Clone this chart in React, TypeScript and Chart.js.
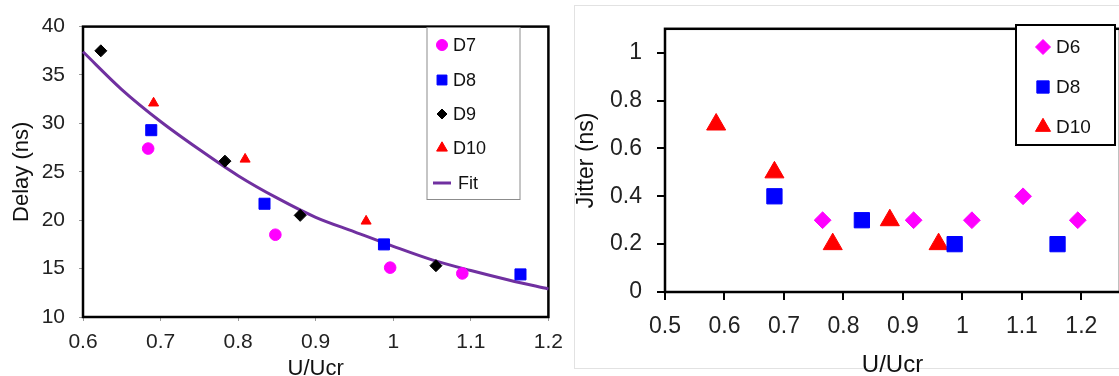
import React, { useEffect, useRef } from 'react';
import { Chart, registerables } from 'chart.js';
import { drawPoint } from 'chart.js/helpers';

Chart.register(...registerables);
Chart.defaults.font.family = "'Liberation Sans', Arial, sans-serif";

// ---------- Left chart: Delay ----------
const d7X = [0.684, 0.848, 0.996, 1.089];
const d7Y = [27.4, 18.5, 15.1, 14.5];
const d8LeftX = [0.688, 0.834, 0.988, 1.164];
const d8LeftY = [29.3, 21.7, 17.5, 14.4];
const d9X = [0.623, 0.783, 0.88, 1.055];
const d9Y = [37.5, 26.1, 20.5, 15.3];
const d10LeftX = [0.691, 0.809, 0.965];
const d10LeftY = [32.1, 26.3, 19.9];
const fitX = [0.6, 0.65, 0.7, 0.75, 0.8, 0.85, 0.9, 0.95, 1.0, 1.05, 1.1, 1.15, 1.2];
const fitY = [37.4, 33.5, 30.2, 27.3, 24.6, 22.3, 20.3, 18.8, 17.3, 15.9, 14.8, 13.8, 12.9];

// ---------- Right chart: Jitter ----------
const d6X = [0.765, 0.918, 1.016, 1.102, 1.194];
const d6Y = [0.3, 0.3, 0.3, 0.4, 0.3];
const d8RightX = [0.684, 0.831, 0.987, 1.16];
const d8RightY = [0.4, 0.3, 0.2, 0.2];
const d10RightX = [0.586, 0.684, 0.782, 0.878, 0.96];
const d10RightY = [0.7, 0.5, 0.2, 0.3, 0.2];

const leftXTitle = 'U/Ucr';
const leftYTitle = 'Delay (ns)';
const rightXTitle = 'U/Ucr';
const rightYTitle = 'Jitter (ns)';

const pts = (xs: number[], ys: number[]) => xs.map((x, i) => ({ x, y: ys[i] }));
const fmt = (v: any) => String(Number(Number(v).toFixed(2)));

const boxPlugin = {
  id: 'plotBox',
  beforeDraw(chart: any, _a: any, opts: any) {
    if (!opts || !opts.frame) return;
    const { ctx } = chart;
    ctx.save();
    ctx.strokeStyle = opts.frame.color;
    ctx.lineWidth = 1;
    ctx.strokeRect(opts.frame.x, opts.frame.y, opts.frame.w, opts.frame.h);
    ctx.restore();
  },
  beforeDatasetsDraw(chart: any, _a: any, opts: any) {
    const { ctx, chartArea } = chart;
    ctx.save();
    ctx.strokeStyle = opts.color || '#000';
    ctx.lineWidth = opts.width || 2;
    ctx.strokeRect(chartArea.left, chartArea.top, chartArea.right - chartArea.left, chartArea.bottom - chartArea.top);
    ctx.restore();
  },
};

const legendPlugin = {
  id: 'boxLegend',
  afterDraw(chart: any, _a: any, o: any) {
    const { ctx } = chart;
    ctx.save();
    ctx.fillStyle = '#fff';
    ctx.fillRect(o.x, o.y, o.w, o.h);
    ctx.strokeStyle = o.borderColor;
    ctx.lineWidth = o.borderWidth;
    ctx.strokeRect(o.x, o.y, o.w, o.h);
    ctx.font = `${o.fontSize}px 'Liberation Sans', Arial, sans-serif`;
    ctx.textBaseline = 'middle';
    ctx.textAlign = 'left';
    chart.data.datasets.forEach((ds: any, i: number) => {
      const cy = o.rowY[i];
      if (ds.showLine) {
        ctx.strokeStyle = ds.borderColor;
        ctx.lineWidth = ds.borderWidth;
        ctx.beginPath();
        ctx.moveTo(o.markerX - 9, cy);
        ctx.lineTo(o.markerX + 9, cy);
        ctx.stroke();
      } else {
        ctx.fillStyle = ds.backgroundColor;
        ctx.strokeStyle = ds.borderColor;
        ctx.lineWidth = 1;
        drawPoint(ctx, { pointStyle: ds.pointStyle, radius: o.radius[i], borderWidth: 1, rotation: 0 } as any, o.markerX, cy);
      }
      ctx.fillStyle = '#111';
      ctx.fillText(ds.label, o.textX[i], cy + 1);
    });
    ctx.restore();
  },
};

export default function App() {
  const leftRef = useRef<HTMLCanvasElement>(null);
  const rightRef = useRef<HTMLCanvasElement>(null);

  useEffect(() => {
    const tickColor = '#222';
    const left = new Chart(leftRef.current as HTMLCanvasElement, {
      type: 'scatter',
      data: {
        datasets: [
          { label: 'D7', data: pts(d7X, d7Y), pointStyle: 'circle', pointRadius: 5.8, backgroundColor: '#ff00ff', borderColor: '#ff00ff', borderWidth: 1, clip: false },
          { label: 'D8', data: pts(d8LeftX, d8LeftY), pointStyle: 'rect', pointRadius: 7.8, backgroundColor: '#0000ff', borderColor: '#0000ff', borderWidth: 1, clip: false },
          { label: 'D9', data: pts(d9X, d9Y), pointStyle: 'rectRot', pointRadius: 6, backgroundColor: '#000000', borderColor: '#000000', borderWidth: 1, clip: false },
          { label: 'D10', data: pts(d10LeftX, d10LeftY), pointStyle: 'triangle', pointRadius: 5.8, backgroundColor: '#ff0000', borderColor: '#ff0000', borderWidth: 1, clip: false },
          { label: 'Fit', data: pts(fitX, fitY), showLine: true, pointRadius: 0, borderColor: '#7030a0', backgroundColor: '#7030a0', borderWidth: 3, cubicInterpolationMode: 'monotone', clip: false } as any,
        ],
      },
      options: {
        animation: false,
        responsive: false,
        maintainAspectRatio: false,
        layout: { padding: { left: 0, right: 23, top: 17, bottom: 0 } },
        plugins: {
          legend: { display: false },
          tooltip: { enabled: false },
          plotBox: { color: '#000', width: 2.5 },
          boxLegend: {
            x: 427, y: 27.5, w: 93, h: 172, borderColor: '#8c8c8c', borderWidth: 1,
            rowY: [45, 80, 114, 148, 183], markerX: 442, textX: [453, 453, 453, 453, 458],
            radius: [5.5, 7, 5, 6.2, 0], fontSize: 18,
          },
        } as any,
        scales: {
          x: {
            type: 'linear', min: 0.6, max: 1.2,
            afterFit: (s: any) => { s.height = 59; },
            border: { display: false },
            grid: { display: true, drawOnChartArea: false, drawTicks: true, tickLength: 4, color: '#9a9a9a', lineWidth: 1 },
            ticks: { stepSize: 0.1, maxRotation: 0, autoSkip: false, padding: 9, color: tickColor, font: { size: 21 }, callback: fmt },
            title: { display: true, text: leftXTitle, color: '#111', font: { size: 22 }, padding: { top: 0, bottom: -6.5 } },
          },
          y: {
            type: 'linear', min: 10, max: 40,
            afterFit: (s: any) => { s.width = 83; },
            border: { display: false },
            grid: { display: true, drawOnChartArea: false, drawTicks: true, tickLength: 4, color: '#9a9a9a', lineWidth: 1 },
            ticks: { stepSize: 5, padding: 14, color: tickColor, font: { size: 21 }, callback: fmt },
            title: { display: true, text: leftYTitle, color: '#111', font: { size: 22 }, padding: { top: 8.3, bottom: 0 } },
          },
        },
      } as any,
      plugins: [boxPlugin, legendPlugin] as any,
    });

    const right = new Chart(rightRef.current as HTMLCanvasElement, {
      type: 'scatter',
      data: {
        datasets: [
          { label: 'D6', data: pts(d6X, d6Y), pointStyle: 'rectRot', pointRadius: 8.4, backgroundColor: '#ff00ff', borderColor: '#ff00ff', borderWidth: 1, clip: false },
          { label: 'D8', data: pts(d8RightX, d8RightY), pointStyle: 'rect', pointRadius: 10.8, backgroundColor: '#0000ff', borderColor: '#0000ff', borderWidth: 1, clip: false },
          { label: 'D10', data: pts(d10RightX, d10RightY), pointStyle: 'triangle', pointRadius: 11, backgroundColor: '#ff0000', borderColor: '#ff0000', borderWidth: 1, clip: false },
        ],
      },
      options: {
        animation: false,
        responsive: false,
        maintainAspectRatio: false,
        layout: { padding: { left: 0, right: 2, top: 15, bottom: 0 } },
        plugins: {
          legend: { display: false },
          tooltip: { enabled: false },
          plotBox: { color: '#000', width: 2.5, frame: { x: 2.5, y: 5.5, w: 620, h: 363, color: '#e2e2e2' } },
          boxLegend: {
            x: 444, y: 25, w: 99, h: 120, borderColor: '#000', borderWidth: 2,
            rowY: [47, 87, 127], markerX: 471, textX: [484, 484, 484],
            radius: [7.5, 8.7, 8.7], fontSize: 19,
          },
        } as any,
        scales: {
          x: {
            type: 'linear', min: 0.5, max: 1.265,
            afterFit: (s: any) => { s.height = 84; },
            border: { display: false },
            grid: { display: true, drawOnChartArea: false, drawTicks: true, tickLength: 8, color: '#000', lineWidth: 2 },
            ticks: { stepSize: 0.1, includeBounds: false, maxRotation: 0, autoSkip: false, padding: 13, color: tickColor, font: { size: 23 }, callback: fmt },
            title: { display: true, text: rightXTitle, color: '#111', font: { size: 24 }, padding: { top: 0, bottom: -3.4 } },
          },
          y: {
            type: 'linear', min: 0, max: 1.1,
            afterFit: (s: any) => { s.width = 93; },
            border: { display: false },
            grid: { display: true, drawOnChartArea: false, drawTicks: true, tickLength: 8, color: '#000', lineWidth: 2 },
            ticks: { stepSize: 0.2, includeBounds: false, padding: 15, color: tickColor, font: { size: 23 }, callback: fmt },
            title: { display: true, text: rightYTitle, color: '#111', font: { size: 23 }, padding: { top: 1.2, bottom: 0 } },
          },
        },
      } as any,
      plugins: [boxPlugin, legendPlugin] as any,
    });

    return () => {
      left.destroy();
      right.destroy();
    };
  }, []);

  return (
    <div style={{ position: 'absolute', left: 0, top: 0, width: 1119, height: 376, overflow: 'hidden', background: '#fff' }}>
      <div style={{ position: 'absolute', left: 0, top: 0, width: 572, height: 376 }}>
        <canvas ref={leftRef} width={572} height={376} style={{ width: 572, height: 376, display: 'block' }} />
      </div>
      <div style={{ position: 'absolute', left: 572, top: 0, width: 560, height: 376 }}>
        <canvas ref={rightRef} width={560} height={376} style={{ width: 560, height: 376, display: 'block' }} />
      </div>
    </div>
  );
}
